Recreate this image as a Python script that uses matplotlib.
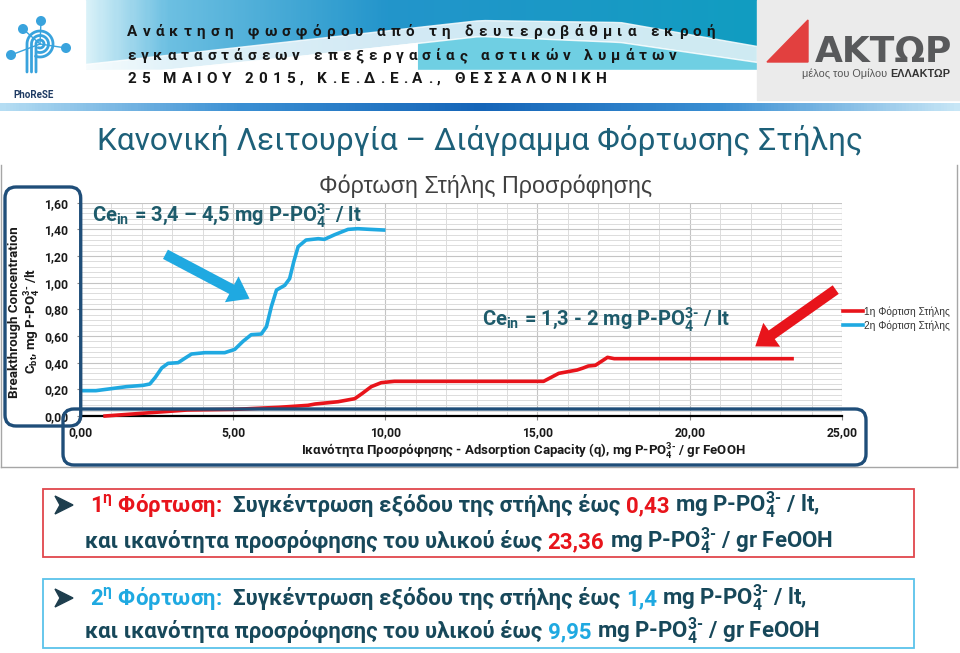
"""
Breakthrough curves of the adsorption column (normal operation), drawn as
the slide from the PhoReSE workshop: header, chart and the two summary boxes.
"""
import matplotlib
matplotlib.use("Agg")
import matplotlib.pyplot as plt
import numpy as np
from matplotlib.patches import FancyBboxPatch, FancyArrowPatch, Rectangle, Polygon, Circle
from matplotlib.colors import LinearSegmentedColormap
from matplotlib.ticker import MultipleLocator, FuncFormatter

BODY = "Roboto"
ARIAL = "Liberation Sans"
plt.rcParams["mathtext.fontset"] = "custom"
plt.rcParams["mathtext.rm"] = BODY
plt.rcParams["mathtext.it"] = BODY + ":italic"
plt.rcParams["mathtext.bf"] = BODY + ":bold"

# 1st loading (red): adsorption capacity q vs breakthrough concentration
q1 = [0.8, 2.0, 3.5, 5.06, 6.5, 7.46, 7.7, 8.45, 9.0, 9.25, 9.54, 9.87, 10.3, 12.0,
      15.2, 15.45, 15.7, 15.94, 16.3, 16.5, 16.67, 16.9, 17.1, 17.3, 17.52, 20.0, 23.36]
c1 = [0.0, 0.02, 0.045, 0.05, 0.065, 0.08, 0.09, 0.107, 0.13, 0.17, 0.22, 0.25, 0.26, 0.26,
      0.26, 0.29, 0.32, 0.33, 0.345, 0.36, 0.375, 0.38, 0.41, 0.44, 0.43, 0.43, 0.43]
# 2nd loading (blue)
q2 = [0.1, 0.5, 1.0, 1.5, 2.05, 2.27, 2.45, 2.66, 2.87, 3.2, 3.4, 3.64, 4.08, 4.73,
      5.06, 5.33, 5.6, 5.93, 6.1, 6.26, 6.43, 6.7, 6.86, 7.0, 7.14, 7.4, 7.8, 8.0,
      8.34, 8.78, 9.1, 9.5, 9.95]
c2 = [0.19, 0.19, 0.205, 0.22, 0.23, 0.24, 0.29, 0.36, 0.395, 0.40, 0.43, 0.465, 0.475, 0.475,
      0.50, 0.56, 0.61, 0.615, 0.67, 0.82, 0.945, 0.98, 1.03, 1.16, 1.27, 1.32, 1.33, 1.325,
      1.36, 1.40, 1.405, 1.40, 1.395]
series_names = ["1η Φόρτιση Στήλης", "2η Φόρτιση Στήλης"]
xticks = [0, 5, 10, 15, 20, 25]
yticks = [0, 0.2, 0.4, 0.6, 0.8, 1.0, 1.2, 1.4, 1.6]

header_lines = ["Ανάκτηση φωσφόρου από τη δευτεροβάθμια εκροή",
                "εγκαταστάσεων επεξεργασίας αστικών λυμάτων",
                "25 ΜΑΙΟΥ 2015, Κ.Ε.Δ.Ε.Α., ΘΕΣΣΑΛΟΝΙΚΗ"]
slide_title = "Κανονική Λειτουργία – Διάγραμμα Φόρτωσης Στήλης"
chart_title = "Φόρτωση Στήλης Προσρόφησης"
PO4 = "P-PO$_\\mathbf{4}^\\mathbf{3\u2010}$"

RED = "#E8141B"
BLUE = "#1FA9E1"
NAVY = "#1F4E79"
TEAL = "#1E5B6B"
INK = "#17485A"

W, H = 960, 653
fig = plt.figure(figsize=(W / 100, H / 100), dpi=100)
fig.patch.set_facecolor("white")
R = fig.canvas.get_renderer()


def pix_axes(z):
    a = fig.add_axes([0, 0, 1, 1], zorder=z)
    a.set_xlim(0, W)
    a.set_ylim(H, 0)
    a.axis("off")
    return a


bg = pix_axes(0)
ax = fig.add_axes([80.7 / W, 1 - 416 / H, (842 - 80.7) / W, (416 - 202.7) / H], zorder=2)
top = pix_axes(5)


def width(t):
    return t.get_window_extent(renderer=R).width


def space(size, family, weight):
    a = top.text(0, 0, "n n", fontsize=size, family=family, fontweight=weight)
    b = top.text(0, 0, "nn", fontsize=size, family=family, fontweight=weight)
    w = width(a) - width(b)
    a.remove(); b.remove()
    return w


def run(a, parts, x, y, size, family=BODY, weight="bold", keep=True):
    # pieces of text in different colours on one baseline
    sp = space(size, family, weight)
    x0, made = x, []
    for part in parts:
        s, c, g = part[:3]
        wt = part[3] if len(part) > 3 else weight
        x += g * sp
        t = a.text(x, y, s, color=c, fontsize=size, fontweight=wt, family=family,
                   va="baseline", ha="left", zorder=4)
        x += width(t)
        made.append(t)
    if not keep:
        for t in made:
            t.remove()
    return x - x0


def fit(t, target, vertical=False):
    bb = t.get_window_extent(renderer=R)
    t.set_fontsize(t.get_fontsize() * target / (bb.height if vertical else bb.width))


def tracked(s, x0, x1, y, size, color):
    # letter-spaced header line stretched between x0 and x1
    ts = [bg.text(0, y, ch, fontsize=size, fontweight="bold", family=BODY, color=color,
                  va="baseline", zorder=4) for ch in s]
    sp = size * 100 / 72 * 0.25
    ws = [sp if ch == " " else width(t) for t, ch in zip(ts, s)]
    gap = (x1 - x0 - sum(ws)) / (len(s) - 1)
    x = x0
    for t, w in zip(ts, ws):
        t.set_x(x)
        x += w + gap


# ---------------- header ----------------
banner = LinearSegmentedColormap.from_list(
    "banner", [(0, "#D8F1F8"), (0.12, "#6DC0E2"), (0.45, "#2395CB"), (1, "#119DC1")])
bg.imshow(np.linspace(0, 1, 300)[None, :], cmap=banner, extent=(85, 757, 70, 0),
          aspect="auto", zorder=1)
xs = np.linspace(85, 757, 80)
upper = np.interp(xs, [85, 300, 480, 620, 757], [64, 40, 20, 22, 46])
lower = np.interp(xs, [85, 300, 480, 620, 757], [78, 56, 36, 42, 62])
bg.fill_between(xs, 70, lower, color="#6FCFE3", zorder=1.5)
bg.fill_between(xs, 70, lower, where=xs < 420, color="white", zorder=1.6)
bg.fill_between(xs, upper, lower, color="white", alpha=0.8, zorder=2)
bg.add_patch(Rectangle((0, 70), 757, 30, color="white", zorder=2.5))
bg.add_patch(Rectangle((0, 0), 85, 100, color="white", zorder=2.5))

for i, (s, y) in enumerate(zip(header_lines, [36, 60, 83])):
    tracked(s, 127, [715, 677, 607][i], y, 11, "#161616")

LOGO = "#39A3DD"
for cx, cy in [(23, 29), (41, 21), (66, 48), (11, 55)]:
    bg.plot([cx, 40], [cy, 44], color=LOGO, lw=1, zorder=3)
    bg.add_patch(Circle((cx, cy), 4.3, color=LOGO, zorder=3))
ang = np.radians(np.linspace(-110, 180, 60))
for r in (4, 8.5, 13):
    bg.plot(np.r_[40 + r * np.cos(ang), 40 - r], np.r_[44 - r * np.sin(ang), 72],
            color=LOGO, lw=2, zorder=3, solid_capstyle="round")
bg.text(34, 95, "PhoReSE", fontsize=7, fontweight="bold", family=BODY, color="#1F3B63",
        ha="center", va="center", zorder=3)

bg.add_patch(Rectangle((757, 0), 203, 100, color="#EBEBEB", zorder=3))
bg.add_patch(Polygon([(808, 20), (767, 62), (808, 62)], color="#E2403F", zorder=4))
t = bg.text(815, 62, "ΑΚΤΩΡ", fontsize=20, fontweight="bold", family="DejaVu Sans",
            color="#58595B", va="baseline", zorder=4)
fit(t, 137)
sub = [("μέλος του Ομίλου", "#555555", 0, "normal"), ("ΕΛΛΑΚΤΩΡ", "#333333", 1)]
ss = 6.3 * 148 / run(bg, sub, 802, 77, 6.3, family=ARIAL, keep=False)
run(bg, sub, 802, 77, ss, family=ARIAL)

bar = LinearSegmentedColormap.from_list("bar", ["#B5DDF3", "#3A8FD3", "#1565B8", "#3A8FD3", "#C7E6F6"])
bg.imshow(np.linspace(0, 1, 300)[None, :], cmap=bar, extent=(0, W, 111, 103),
          aspect="auto", zorder=1)

t = bg.text(479.5, 141, slide_title, fontsize=20, family=BODY, color="#1D6079",
            ha="center", va="center", zorder=3)
fit(t, 765)

# ---------------- chart ----------------
for xy in ([(1, 1), (165, 467)], [(957, 957), (165, 467)], [(1, 957), (467, 467)]):
    bg.plot(*xy, color="#A6A6A6", lw=1, zorder=1)

l1, = ax.plot(q1, c1, color=RED, lw=2.6, clip_on=False, zorder=3)
l2, = ax.plot(q2, c2, color=BLUE, lw=2.6, clip_on=False, zorder=3)
ax.set_xlim(0, 25)
ax.set_ylim(0, 1.6)
ax.set_xticks(xticks)
ax.set_yticks(yticks)
ax.xaxis.set_minor_locator(MultipleLocator(1))
ax.yaxis.set_minor_locator(MultipleLocator(0.04))
comma = FuncFormatter(lambda v, p: f"{v:.2f}".replace(".", ","))
ax.xaxis.set_major_formatter(comma)
ax.yaxis.set_major_formatter(comma)
ax.grid(which="major", color="#C4C4C4", lw=0.8)
ax.grid(which="minor", color="#DCDCDC", lw=0.7)
ax.set_axisbelow(True)
ax.tick_params(which="minor", length=0)
ax.tick_params(which="major", direction="out", length=3, color="#868686", labelsize=8.7,
               labelcolor="#1A1A1A")
ax.tick_params(axis="y", pad=6)
ax.tick_params(axis="x", pad=4)
plt.setp(ax.get_xticklabels() + ax.get_yticklabels(), fontweight="bold", family=BODY)
for side in ("top", "right"):
    ax.spines[side].set_visible(False)
ax.spines["left"].set_color("#868686")
ax.spines["left"].set_linewidth(0.8)
ax.spines["bottom"].set_color("black")
ax.spines["bottom"].set_linewidth(1.6)

leg = ax.legend([l1, l2], series_names, loc="center left",
                bbox_to_anchor=(843 / W, 1 - 318.5 / H), bbox_transform=fig.transFigure,
                frameon=False, handlelength=2.0, handletextpad=0.1, labelspacing=0.3,
                borderpad=0, borderaxespad=0, prop={"family": ARIAL, "size": 7.3})
for txt in leg.get_texts():
    txt.set_color("#333333")

t = top.text(486, 186, chart_title, fontsize=13, family=ARIAL, color="#404040",
             ha="center", va="center")
fit(t, 332)

xl = top.text(523.5, 452, "Ικανότητα Προσρόφησης - Adsorption Capacity (q), mg " + PO4 + " / gr FeOOH",
              fontsize=9, fontweight="bold", family=BODY, color="#1A1A1A", ha="center", va="center")
fit(xl, 443)
yl1 = top.text(15, 312, "Breakthrough Concentration", rotation=90, fontsize=9,
               fontweight="bold", family=BODY, color="#1A1A1A", ha="center", va="center")
fit(yl1, 171, vertical=True)
top.text(33, 321, "C$_\\mathbf{bt}$, mg " + PO4 + " /lt", rotation=90, fontsize=yl1.get_fontsize(),
         fontweight="bold", family=BODY, color="#1A1A1A", ha="center", va="center")

top.add_patch(FancyBboxPatch((5, 187), 75.7, 239, boxstyle="round,pad=0,rounding_size=11",
                             fc="none", ec=NAVY, lw=2.4))
top.add_patch(FancyBboxPatch((63, 409), 803, 56, boxstyle="round,pad=0,rounding_size=11",
                             fc="none", ec=NAVY, lw=2.4))

a1 = [("Ce$_\\mathbf{in}$", TEAL, 0), ("= 3,4 – 4,5 mg " + PO4 + " / lt", TEAL, 1)]
s = 12 * 270 / run(top, a1, 92, 222, 12, keep=False)
run(top, a1, 92, 222, s)
a2 = [("Ce$_\\mathbf{in}$", TEAL, 0), ("= 1,3 - 2 mg " + PO4 + " / lt", TEAL, 1)]
run(top, a2, 482, 326, s)

arrow = "simple,head_length=1.0,head_width=1.45,tail_width=0.52"
top.add_patch(FancyArrowPatch((163, 253), (252, 300), arrowstyle=arrow, mutation_scale=14.5,
                              color=BLUE, lw=0))
top.add_patch(FancyArrowPatch((838, 288), (753, 348), arrowstyle=arrow, mutation_scale=14.5,
                              color=RED, lw=0))

# ---------------- summary boxes ----------------
top.add_patch(Rectangle((43, 489), 871, 68, fc="white", ec="#E0474C", lw=1.3))
top.add_patch(Rectangle((43, 579), 871, 69, fc="white", ec="#5BC3EA", lw=1.3))

box1 = [[("1$^\\mathbf{η}$ Φόρτωση:", RED, 0), ("Συγκέντρωση εξόδου της στήλης έως", INK, 2),
         ("0,43", RED, 1), ("mg " + PO4 + " / lt,", INK, 1)],
        [("και ικανότητα προσρόφησης του υλικού έως", INK, 0), ("23,36", RED, 1),
         ("mg " + PO4 + " / gr FeOOH", INK, 1)]]
box2 = [[("2$^\\mathbf{η}$ Φόρτωση:", BLUE, 0), ("Συγκέντρωση εξόδου της στήλης έως", INK, 2),
         ("1,4", BLUE, 1), ("mg " + PO4 + " / lt,", INK, 1)],
        [("και ικανότητα προσρόφησης του υλικού έως", INK, 0), ("9,95", BLUE, 1),
         ("mg " + PO4 + " / gr FeOOH", INK, 1)]]
bs = 14 * 752 / run(top, box1[1], 85, 548, 14, keep=False)
for lines, (y1, y2) in [(box1, (512, 548)), (box2, (605, 638))]:
    run(top, lines[0], 90, y1, bs)
    run(top, lines[1], 85, y2, bs)
    top.add_patch(Polygon([(55, y1 - 16), (73, y1 - 7), (55, y1 + 2), (60, y1 - 7)],
                          color="#1E3E4E"))

fig.savefig("out.png", dpi=100, facecolor=fig.get_facecolor())
